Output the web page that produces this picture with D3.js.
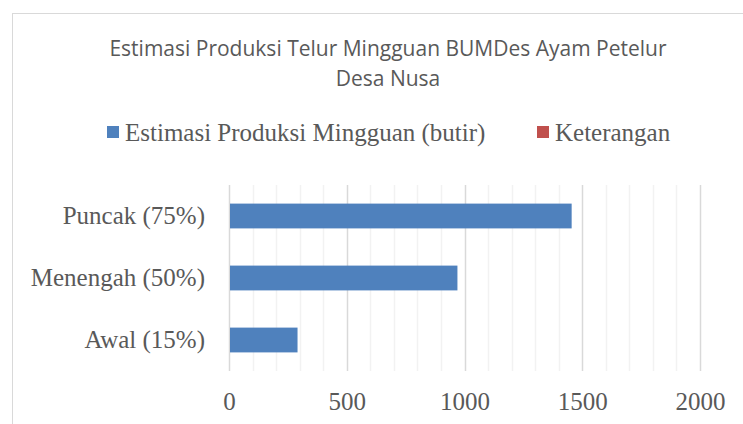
<!DOCTYPE html>
<html>
<head>
<meta charset="utf-8">
<script src="https://cdn.jsdelivr.net/npm/d3@7"></script>
<style>
  html, body { margin: 0; padding: 0; background: #fff; }
  svg { display: block; }
</style>
</head>
<body>
<svg id="chart" width="743" height="424"></svg>
<script>
// ---- data ----
const categories = ["Awal (15%)", "Menengah (50%)", "Puncak (75%)"];
const seriesNames = ["Estimasi Produksi Mingguan (butir)", "Keterangan"];
const productionValues = [291, 970, 1455];
const xTicks = [0, 500, 1000, 1500, 2000];
const titleLines = ["Estimasi Produksi Telur Mingguan BUMDes Ayam Petelur", "Desa Nusa"];

// ---- layout ----
const W = 743, H = 424;
const plot = { left: 229, right: 700, top: 185, bottom: 371 };
const seriesColors = ["#4F81BD", "#C0504D"];
const textColor = "#595959";
const serif = "'Liberation Serif', 'Times New Roman', serif";

const svg = d3.select("#chart");

// chart area border
svg.append("rect")
  .attr("x", 12.5).attr("y", 13.5)
  .attr("width", W + 20).attr("height", H + 20)
  .attr("fill", "#fff").attr("stroke", "#d9d9d9").attr("stroke-width", 1);

// scales
const x = d3.scaleLinear().domain([0, 2000]).range([plot.left, plot.right]);
const y = d3.scaleBand()
  .domain(categories.slice().reverse())
  .range([plot.top, plot.bottom])
  .paddingInner(0.6).paddingOuter(0.3);

// minor gridlines
const minor = d3.range(0, 2001, 100).filter(v => v % 500 !== 0);
svg.append("g").selectAll("line").data(minor).join("line")
  .attr("x1", d => Math.round(x(d)) + 0.5).attr("x2", d => Math.round(x(d)) + 0.5)
  .attr("y1", plot.top).attr("y2", plot.bottom)
  .attr("stroke", "#f2f2f2").attr("stroke-width", 1.5);

// major gridlines
svg.append("g").selectAll("line").data(xTicks).join("line")
  .attr("x1", d => Math.round(x(d)) + 0.5).attr("x2", d => Math.round(x(d)) + 0.5)
  .attr("y1", plot.top).attr("y2", plot.bottom)
  .attr("stroke", "#d9d9d9").attr("stroke-width", 1.5);

// bars
svg.append("g").selectAll("rect").data(categories).join("rect")
  .attr("x", x(0) + 1)
  .attr("y", (d) => y(d))
  .attr("width", (d, i) => x(productionValues[i]) - x(0) - 1)
  .attr("height", y.bandwidth())
  .attr("fill", seriesColors[0]);

// x axis labels
const xAxis = d3.axisBottom(x).tickValues(xTicks).tickSize(0).tickPadding(0).tickFormat(d3.format("d"));
const gx = svg.append("g").attr("transform", `translate(0, 392)`).call(xAxis);
gx.select(".domain").remove();
gx.selectAll("text")
  .attr("dy", "0.72em")
  .attr("font-family", serif).attr("font-size", 25).attr("fill", textColor);

// y axis labels
const yAxis = d3.axisLeft(y).tickSize(0).tickPadding(0);
const gy = svg.append("g").attr("transform", `translate(205, 0)`).call(yAxis);
gy.select(".domain").remove();
gy.selectAll("text")
  .attr("dy", "0.32em")
  .attr("font-family", serif).attr("font-size", 25).attr("fill", textColor);

// title
svg.append("g").selectAll("text").data(titleLines).join("text")
  .attr("x", 388).attr("y", (d, i) => 56 + i * 30)
  .attr("text-anchor", "middle")
  .attr("font-family", "'Open Sans', sans-serif").attr("font-size", 21)
  .attr("fill", textColor)
  .text(d => d);

// legend
const legendItems = [
  { name: seriesNames[0], color: seriesColors[0], x: 107 },
  { name: seriesNames[1], color: seriesColors[1], x: 537 }
];
const lg = svg.append("g").selectAll("g").data(legendItems).join("g")
  .attr("transform", d => `translate(${d.x}, 126)`);
lg.append("rect").attr("width", 12).attr("height", 12).attr("fill", d => d.color);
lg.append("text").attr("x", 18).attr("y", 14.5)
  .attr("font-family", serif).attr("font-size", 25).attr("fill", textColor)
  .text(d => d.name);
</script>
</body>
</html>
